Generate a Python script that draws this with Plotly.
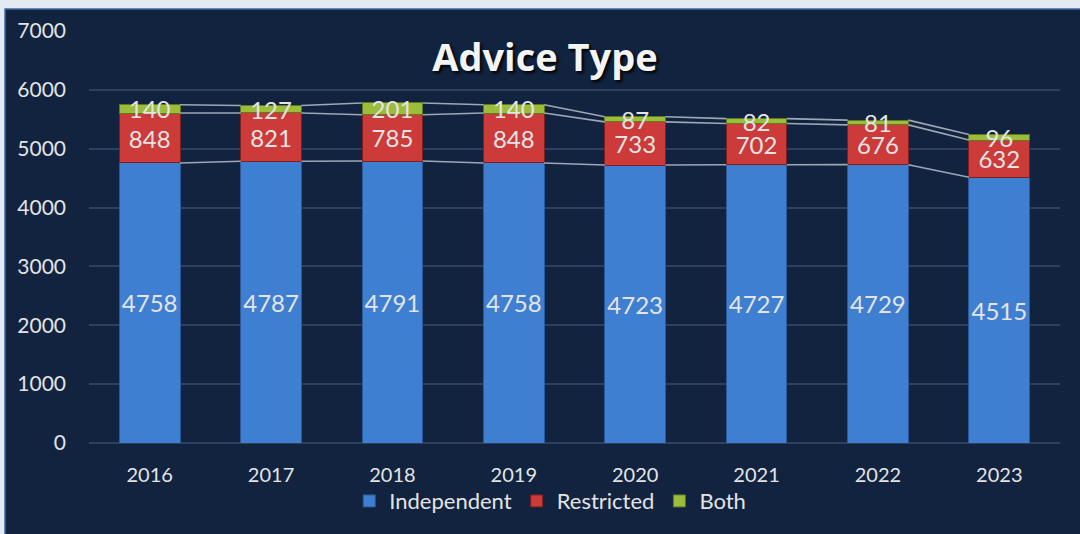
import plotly.graph_objects as go

years = ["2016", "2017", "2018", "2019", "2020", "2021", "2022", "2023"]
independent = [4758, 4787, 4791, 4758, 4723, 4727, 4729, 4515]
restricted = [848, 821, 785, 848, 733, 702, 676, 632]
both = [140, 127, 201, 140, 87, 82, 81, 96]
y_ticks = [0, 1000, 2000, 3000, 4000, 5000, 6000, 7000]

NAVY = "#11233f"
FONT = "Lato"
LABEL = "#e4e4e4"
xs = list(range(len(years)))
BAR_W = 0.5

fig = go.Figure()

# series lines connecting stacked segment tops between bars
lvl1 = independent
lvl2 = [a + b for a, b in zip(independent, restricted)]
lvl3 = [a + b + c for a, b, c in zip(independent, restricted, both)]
lx, ly = [], []
for lvl in (lvl1, lvl2, lvl3):
    for i in range(len(xs) - 1):
        lx += [xs[i] + BAR_W / 2, xs[i + 1] - BAR_W / 2, None]
        ly += [lvl[i], lvl[i + 1], None]
fig.add_trace(go.Scatter(x=lx, y=ly, mode="lines", line=dict(color="#9ea7b4", width=1.6),
                         hoverinfo="skip", showlegend=False))

series = [
    ("Independent", independent, "#3f7fd2", "#2a5a9c"),
    ("Restricted", restricted, "#cc3a3a", "#7e1e1e"),
    ("Both", both, "#9cbc3c", "#5f7a1c"),
]
for name, vals, col, lcol in series:
    fig.add_trace(go.Bar(
        name=name, x=xs, y=vals, width=BAR_W,
        marker=dict(color=col, line=dict(color=lcol, width=1)),
        text=[str(v) for v in vals], textposition="inside", insidetextanchor="middle",
        textangle=0, constraintext="none",
        textfont=dict(family=FONT, size=24, color=LABEL),
    ))

fig.update_layout(
    barmode="stack",
    width=1080, height=534,
    margin=dict(l=89, r=20, t=31, b=91, autoexpand=False),
    paper_bgcolor="#e3eaf2",
    plot_bgcolor=NAVY,
    font=dict(family=FONT, color=LABEL),
    title=dict(text="<b>Advice Type</b>", x=0.4696, xref="paper", xanchor="center",
               y=1 - 58 / 534, yref="container", yanchor="middle",
               font=dict(family="Open Sans", size=38, color="#f4f4f4", shadow="2px 2px 3px #000000")),
    legend=dict(orientation="h", x=0.475, xanchor="center", y=-0.141, yanchor="middle",
                font=dict(family=FONT, size=22, color=LABEL), bgcolor="rgba(0,0,0,0)",
                traceorder="normal", itemwidth=30),
    xaxis=dict(range=[-0.5, len(years) - 0.5], tickvals=xs, ticktext=years, showgrid=False,
               zeroline=False, showline=False, ticks="", ticklabelstandoff=18, automargin=False,
               tickfont=dict(family=FONT, size=20, color=LABEL)),
    yaxis=dict(range=[0, 7000], tickvals=y_ticks, showgrid=True, gridcolor="#2d405d", gridwidth=1.5,
               zeroline=True, zerolinecolor="#2d405d", zerolinewidth=1.5, showline=False, ticks="",
               ticklabelstandoff=22, automargin=False, tickfont=dict(family=FONT, size=21, color=LABEL)),
    shapes=[dict(type="rect", xref="paper", yref="paper", x0=(5 - 89) / 971, x1=1.1,
                 y0=-0.4, y1=(443 - 9) / 412, fillcolor=NAVY,
                 line=dict(color="#3d6aa6", width=1.5), layer="below")],
    bargap=0.5,
)

fig.write_html("out.html", config={"displayModeBar": False},
               post_script="document.body.style.margin='0';")
